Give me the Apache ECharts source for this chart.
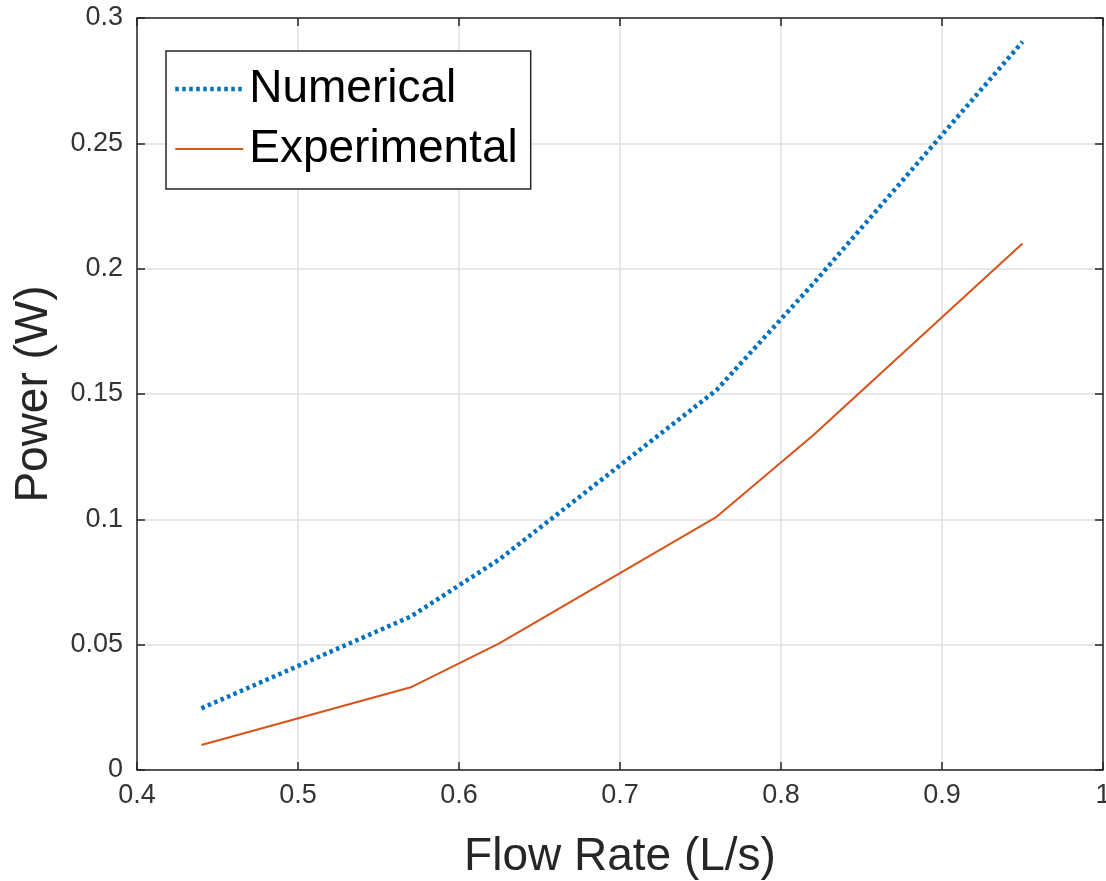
<!DOCTYPE html>
<html>
<head>
<meta charset="utf-8">
<script src="https://cdn.jsdelivr.net/npm/echarts@6/dist/echarts.min.js"></script>
<style>
html,body{margin:0;padding:0;background:#fff;overflow:hidden;width:1106px;height:881px;}
#chart{width:1106px;height:881px;display:block;}
</style>
</head>
<body>
<div id="chart"></div>
<script>
const flowRate = [0.44, 0.57, 0.625, 0.76, 0.82, 0.95];
const numerical = [0.0246, 0.0612, 0.084, 0.1516, 0.194, 0.2905];
const experimental = [0.010, 0.033, 0.0505, 0.101, 0.1335, 0.210];
const seriesNames = ['Numerical', 'Experimental'];
const xTitle = 'Flow Rate (L/s)';
const yTitle = 'Power (W)';

const FONT = '"Liberation Sans", Arial, Helvetica, sans-serif';
const AX = '#262626';
const GRID = '#dfdfdf';
const BLUE = '#0072BD';
const ORANGE = '#D95319';
const blueLine = {color: BLUE, width: 4.5, type: [3.5, 3.5], cap: 'butt'};
const orangeLine = {color: ORANGE, width: 2, type: 'solid'};

function pairs(xs, ys) { return xs.map((x, i) => [x, ys[i]]); }

const chart = echarts.init(document.getElementById('chart'), null, {renderer: 'canvas', width: 1106, height: 881});

const baseX = {
  type: 'value', min: 0.4, max: 1, interval: 0.1,
  axisLine: {show: true, onZero: false, lineStyle: {color: AX, width: 1.5}},
  axisTick: {show: true, inside: true, length: 8, lineStyle: {color: AX, width: 1.5}},
  splitLine: {show: true, lineStyle: {color: GRID, width: 1.5}}
};
const baseY = {
  type: 'value', min: 0, max: 0.3, interval: 0.05,
  axisLine: {show: true, onZero: false, lineStyle: {color: AX, width: 1.5}},
  axisTick: {show: true, inside: true, length: 8, lineStyle: {color: AX, width: 1.5}},
  splitLine: {show: true, lineStyle: {color: GRID, width: 1.5}}
};

chart.setOption({
  backgroundColor: '#fff',
  animation: false,
  textStyle: {fontFamily: FONT},
  grid: {left: 137, top: 18, right: 3, bottom: 111, containLabel: false, outerBoundsMode: 'none'},
  legend: {
    orient: 'vertical',
    left: 166, top: 51,
    data: [
      {name: seriesNames[0], lineStyle: blueLine},
      {name: seriesNames[1], lineStyle: orangeLine}
    ],
    itemWidth: 68, itemHeight: 14, itemGap: 10,
    padding: [13, 13, 15, 7],
    backgroundColor: '#fff',
    borderColor: AX, borderWidth: 1.5,
    itemStyle: {color: 'transparent', borderWidth: 0, opacity: 0},
    textStyle: {fontSize: 46, color: '#000', fontFamily: FONT, lineHeight: 50, padding: [0, 0, 0, 1]}
  },
  xAxis: [
    Object.assign({}, baseX, {
      position: 'bottom',
      name: xTitle, nameLocation: 'middle', nameGap: 64,
      nameTextStyle: {fontSize: 46, color: AX, fontFamily: FONT},
      axisLabel: {show: true, fontSize: 27, color: '#333', margin: 12, fontFamily: FONT,
        formatter: v => String(+v.toFixed(2))}
    }),
    Object.assign({}, baseX, {
      position: 'top', axisLabel: {show: false}, splitLine: {show: false}
    })
  ],
  yAxis: [
    Object.assign({}, baseY, {
      position: 'left',
      name: yTitle, nameLocation: 'middle', nameGap: 80, nameRotate: 90,
      nameTextStyle: {fontSize: 46, color: AX, fontFamily: FONT},
      axisLabel: {show: true, fontSize: 27, color: '#333', margin: 14, fontFamily: FONT,
        formatter: v => String(+v.toFixed(2))}
    }),
    Object.assign({}, baseY, {
      position: 'right', axisLabel: {show: false}, splitLine: {show: false}
    })
  ],
  series: [
    {
      name: seriesNames[0], type: 'line', xAxisIndex: 0, yAxisIndex: 0,
      data: pairs(flowRate, numerical),
      symbol: 'none', showSymbol: false,
      lineStyle: blueLine,
      itemStyle: {color: BLUE}
    },
    {
      name: seriesNames[1], type: 'line', xAxisIndex: 0, yAxisIndex: 0,
      data: pairs(flowRate, experimental),
      symbol: 'none', showSymbol: false,
      lineStyle: orangeLine,
      itemStyle: {color: ORANGE}
    }
  ]
});
</script>
</body>
</html>
